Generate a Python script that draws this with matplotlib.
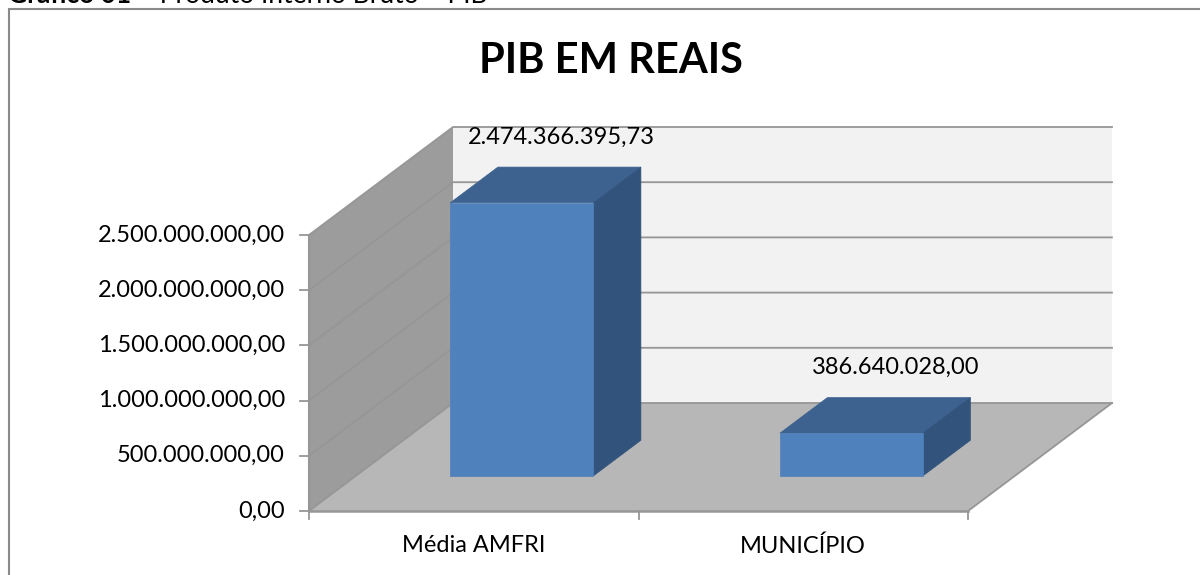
import matplotlib
matplotlib.use("Agg")
import matplotlib.pyplot as plt
from matplotlib.patches import Polygon

plt.rcParams['font.family'] = ['Lato', 'DejaVu Sans']

categories = ["Média AMFRI", "MUNICÍPIO"]
values = [2474366395.73, 386640028.00]
value_labels = ["2.474.366.395,73", "386.640.028,00"]
axis_ticks = [0, 500e6, 1000e6, 1500e6, 2000e6, 2500e6]
tick_labels = ["0,00", "500.000.000,00", "1.000.000.000,00", "1.500.000.000,00",
               "2.000.000.000,00", "2.500.000.000,00"]
title = "PIB EM REAIS"
caption_bold = "Gráfico 01"
caption_rest = " – Produto Interno Bruto – PIB"

W, H = 1200, 575
X0, X1, Y0 = 309.0, 968.0, 511.0
PX_PER_VALUE = 276.0 / 2.5e9
DX, DY = 144.0, -108.0
BAR_WIDTH = 0.434
D0, D1 = 0.325, 0.655


def proj(cat, val, depth=0.0):
    """cat: category units (0..n); val: data value; depth: 0 front .. 1 back."""
    n = len(categories)
    return (X0 + (X1 - X0) * cat / n + DX * depth,
            Y0 - val * PX_PER_VALUE + DY * depth)


fig = plt.figure(figsize=(W / 100, H / 100), dpi=100)
ax = fig.add_axes([0, 0, 1, 1])
ax.set_xlim(0, W)
ax.set_ylim(H, 0)
ax.axis("off")

GRID = "#969696"
TOPV = axis_ticks[-1]
n = len(categories)

# chart frame: left and top edges only are visible in the crop
ax.plot([9.3, 9.3, W], [H, 8.5, 8.5], color="#8a8a8a", lw=1.5, zorder=1,
        solid_joinstyle="miter")

cap = ax.text(8, 3, caption_bold, fontsize=19, fontweight="bold", va="baseline", ha="left")
fig.canvas.draw()
cap_end = cap.get_window_extent().x1
ax.text(cap_end, 3, caption_rest, fontsize=19, va="baseline", ha="left")
ax.text(611, 61, title, fontsize=30, fontweight="bold", ha="center", va="center")

# walls
ax.add_patch(Polygon([proj(0, 0, 1), proj(n, 0, 1), proj(n, TOPV, 1), proj(0, TOPV, 1)],
                     fc="#f2f2f2", ec="none", zorder=1))
ax.add_patch(Polygon([proj(0, 0, 0), proj(0, 0, 1), proj(0, TOPV, 1), proj(0, TOPV, 0)],
                     fc="#9c9c9c", ec="none", zorder=1))
ax.add_patch(Polygon([proj(0, 0, 0), proj(n, 0, 0), proj(n, 0, 1), proj(0, 0, 1)],
                     fc="#b7b7b7", ec="none", zorder=1.1))

# gridlines
for t in axis_ticks:
    a, b, c = proj(0, t, 0), proj(0, t, 1), proj(n, t, 1)
    ax.plot([a[0], b[0], c[0]], [a[1], b[1], c[1]], color=GRID, lw=1.3,
            solid_joinstyle="miter", zorder=2)
fr = proj(n, 0, 0)
bk = proj(n, 0, 1)
ax.plot([fr[0], bk[0]], [fr[1], bk[1]], color=GRID, lw=1.3, zorder=2)

# axes and ticks
a, b = proj(0, 0), proj(0, TOPV)
ax.plot([a[0], b[0]], [a[1], b[1]], color=GRID, lw=1.5, zorder=2)
a, b = proj(0, 0), proj(n, 0)
ax.plot([a[0], b[0]], [a[1], b[1]], color=GRID, lw=1.8, zorder=2)
for t, lab in zip(axis_ticks, tick_labels):
    x, y = proj(0, t)
    ax.plot([x - 9, x], [y, y], color=GRID, lw=1.3, zorder=2)
    ax.text(x - 24, y, lab, fontsize=17, ha="right", va="center")
for i in range(n + 1):
    x, y = proj(i, 0)
    ax.plot([x, x], [y, y + 8], color=GRID, lw=1.3, zorder=2)
for i, lab in enumerate(categories):
    x, y = proj(i + 0.5, 0)
    ax.text(x, 546, lab, fontsize=17, ha="center", va="center")

# bars
for i, (v, lab) in enumerate(zip(values, value_labels)):
    l, r = i + 0.5 - BAR_WIDTH / 2 + 0.004, i + 0.5 + BAR_WIDTH / 2 + 0.004
    ax.add_patch(Polygon([proj(l, v, D0), proj(r, v, D0), proj(r, v, D1), proj(l, v, D1)],
                         fc="#3d6290", ec="#3d6290", lw=0.5, zorder=3))
    ax.add_patch(Polygon([proj(r, 0, D0), proj(r, 0, D1), proj(r, v, D1), proj(r, v, D0)],
                         fc="#32537b", ec="#32537b", lw=0.5, zorder=3))
    ax.add_patch(Polygon([proj(l, 0, D0), proj(r, 0, D0), proj(r, v, D0), proj(l, v, D0)],
                         fc="#4f81bd", ec="#4f81bd", lw=0.5, zorder=3))
    x, y = proj(r, v, D1)
    ax.text(x - 80 + i * 5, y - 30, lab, fontsize=17, ha="center", va="center", zorder=4)

fig.savefig("out.png", dpi=100)
